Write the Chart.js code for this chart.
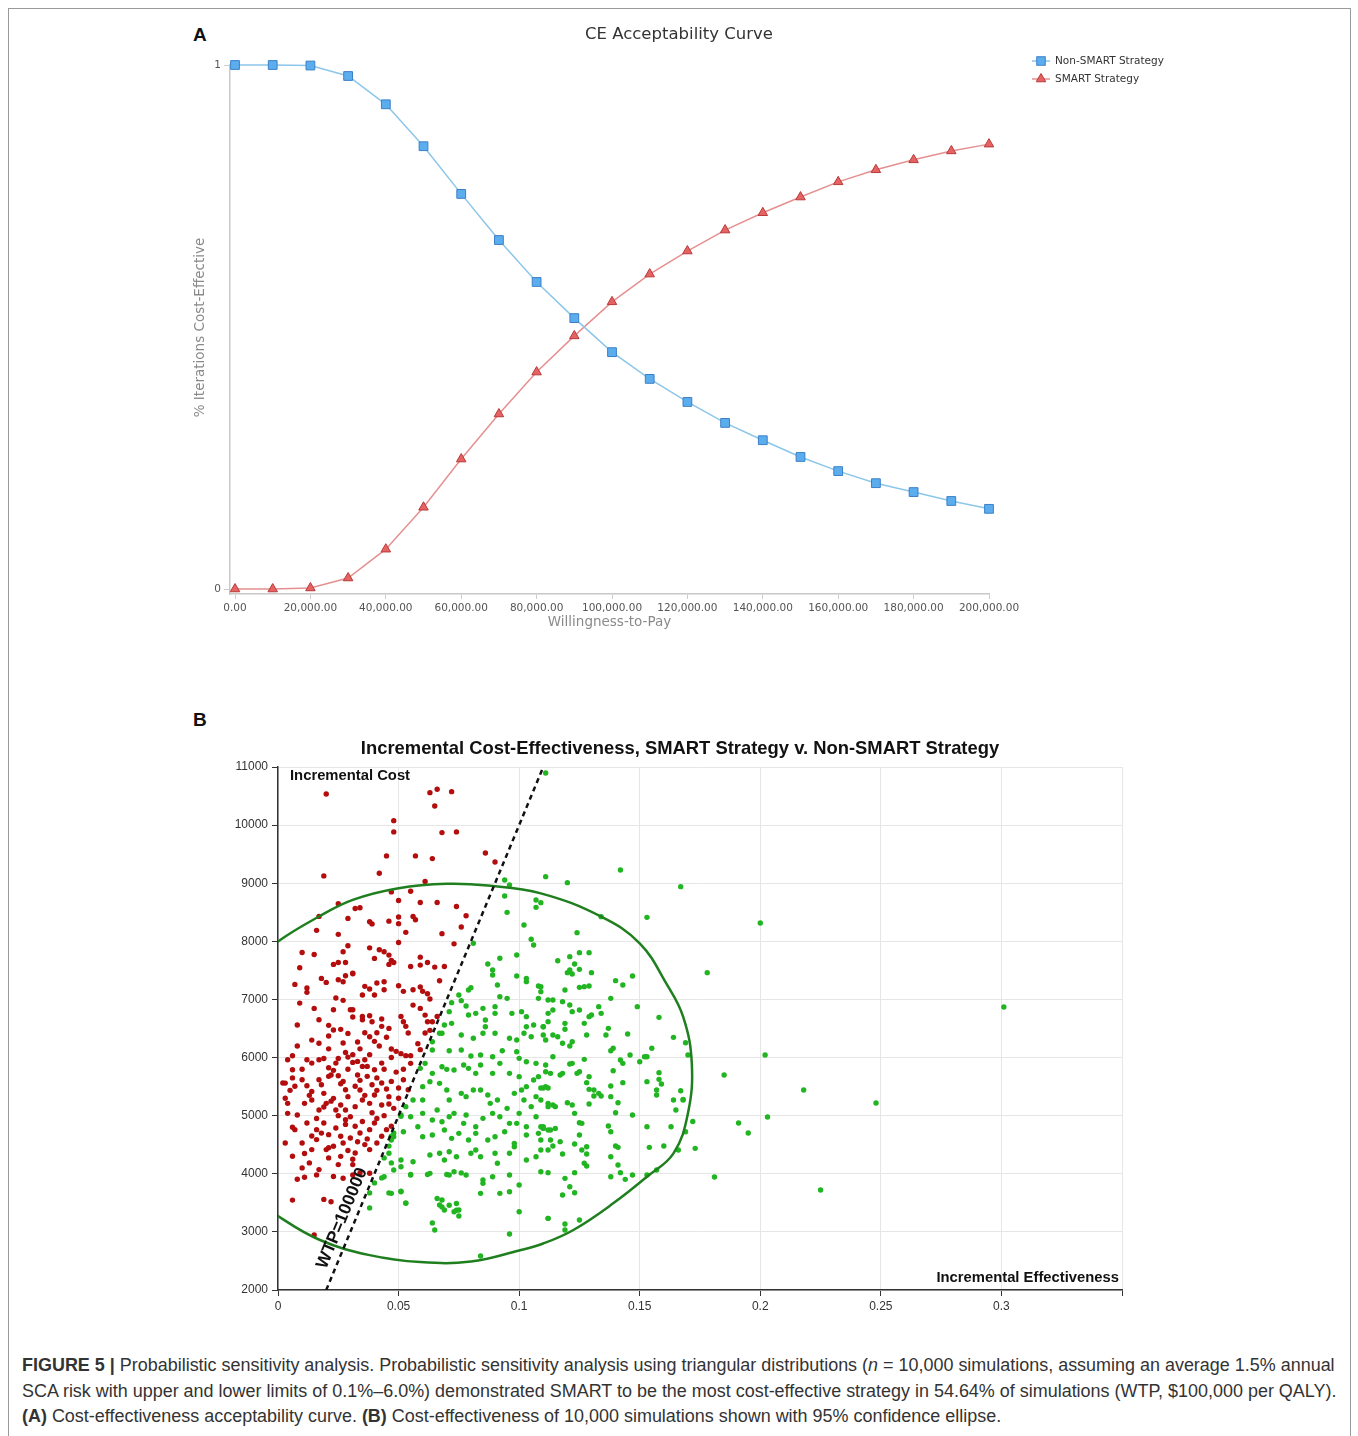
<!DOCTYPE html>
<html lang="en">
<head>
<meta charset="UTF-8">
<title>Figure 5 - Probabilistic sensitivity analysis</title>
<script src="https://cdn.jsdelivr.net/npm/chart.js"></script>
<style>
  body { margin: 0; background: #fff; width: 1358px; height: 1436px; position: relative; overflow: hidden; font-family: "Liberation Sans", Arial, sans-serif; }
  #frame { position: absolute; left: 8px; top: 8px; width: 1341px; height: 1450px; border: 1px solid #9a9a9a; }
  .panel { position: absolute; font-weight: bold; font-size: 19px; line-height: 19px; color: #111; }
  canvas { position: absolute; }
  #cea { left: 180px; top: 15px; }
  #ice { left: 180px; top: 730px; }
  #caption { position: absolute; left: 22px; top: 1353px; font-size: 17.5px; line-height: 25.5px; color: #333; }
  #caption .ln { white-space: nowrap; width: max-content; transform-origin: 0 0; }
</style>
</head>
<body>
<div id="frame"></div>
<div class="panel" style="left:193px; top:25px;">A</div>
<div class="panel" style="left:193px; top:710px;">B</div>
<canvas id="cea" width="1000" height="630" style="width:1000px;height:630px;"></canvas>
<canvas id="ice" width="1000" height="600" style="width:1000px;height:600px;"></canvas>
<div id="caption">
  <div class="ln"><b>FIGURE 5 |</b> Probabilistic sensitivity analysis. Probabilistic sensitivity analysis using triangular distributions (<i>n</i> = 10,000 simulations, assuming an average 1.5% annual</div>
  <div class="ln">SCA risk with upper and lower limits of 0.1%–6.0%) demonstrated SMART to be the most cost-effective strategy in 54.64% of simulations (WTP, $100,000 per QALY).</div>
  <div class="ln"><b>(A)</b> Cost-effectiveness acceptability curve. <b>(B)</b> Cost-effectiveness of 10,000 simulations shown with 95% confidence ellipse.</div>
</div>

<script>
// ---- panel A: CE acceptability curve ----
const wtp = [0, 10000, 20000, 30000, 40000, 50000, 60000, 70000, 80000, 90000, 100000,
             110000, 120000, 130000, 140000, 150000, 160000, 170000, 180000, 190000, 200000];
const nonSmart = [1, 1, 0.999, 0.979, 0.925, 0.845, 0.754, 0.666, 0.586, 0.517, 0.452,
                  0.401, 0.357, 0.317, 0.284, 0.252, 0.225, 0.202, 0.185, 0.168, 0.153];
const smart = [0, 0, 0.002, 0.021, 0.076, 0.156, 0.248, 0.334, 0.414, 0.483, 0.548,
               0.601, 0.645, 0.685, 0.718, 0.748, 0.777, 0.800, 0.819, 0.836, 0.849];
const wtpTicks = [0, 20000, 40000, 60000, 80000, 100000, 120000, 140000, 160000, 180000, 200000];
const wtpTickLabels = ['0.00', '20,000.00', '40,000.00', '60,000.00', '80,000.00', '100,000.00',
                       '120,000.00', '140,000.00', '160,000.00', '180,000.00', '200,000.00'];
const ceaTicks = [0, 1];

// ---- panel B: incremental cost-effectiveness scatter ----
const effTicks = [0, 0.05, 0.1, 0.15, 0.2, 0.25, 0.3, 0.35];
const effTickLabels = ['0', '0.05', '0.1', '0.15', '0.2', '0.25', '0.3', ''];
const costTicks = [2000, 3000, 4000, 5000, 6000, 7000, 8000, 9000, 10000, 11000];

// simulations where SMART is not cost-effective (left of WTP line)
const redPts = [
  [0.020,10536],[0.063,10559],[0.066,10616],[0.065,10330],[0.072,10576],
  [0.048,10077],[0.048,9883],[0.068,9871],[0.074,9883],
  [0.045,9470],[0.057,9470],[0.064,9424],[0.019,9126],[0.042,9172],[0.061,9030],
  [0.086,9521],[0.090,9366],
  [0.047,8851],[0.055,8863],[0.025,8646],[0.032,8566],[0.034,8578],[0.050,8702],[0.059,8668],[0.066,8668],[0.074,8600],
  [0.017,8429],[0.029,8395],[0.038,8338],[0.039,8300],[0.046,8347],[0.050,8304],[0.050,8418],[0.056,8429],[0.057,8372],[0.078,8440],[0.076,8246],
  [0.016,8189],[0.025,8120],[0.053,8155],[0.068,8132],[0.073,7957],[0.050,7980],
  [0.010,7808],[0.015,7774],[0.009,7545],
  [0.029,7923],[0.027,7820],[0.025,7637],[0.023,7603],[0.028,7637],[0.031,7453],[0.028,7408],
  [0.038,7888],[0.044,7820],[0.042,7854],[0.040,7706],[0.047,7671],[0.046,7603],[0.046,7763],[0.048,7637],
  [0.055,7568],[0.059,7728],[0.059,7591],[0.062,7637],[0.065,7557],[0.069,7568],
  [0.018,7362],[0.020,7293],[0.007,7259],[0.012,7196],[0.012,7122],
  [0.025,7339],[0.027,7305],[0.031,7442],[0.036,7225],[0.038,7179],[0.040,7076],[0.041,7282],[0.044,7305],[0.044,7168],
  [0.050,7236],[0.052,7139],[0.056,7168],[0.059,7214],[0.060,7139],[0.062,7099],[0.067,7322],[0.063,7007],
  [0.024,7024],[0.027,6984],[0.030,6823],[0.035,7076],
  [0.009,6937],[0.015,6846],[0.008,6560],[0.023,6823],[0.031,6823],[0.031,6697],[0.035,6708],[0.035,6651],[0.038,6720],[0.039,6617],[0.043,6663],[0.043,6537],[0.046,6502],
  [0.051,6708],[0.052,6617],[0.053,6537],[0.054,6422],[0.056,6903],[0.059,6846],[0.061,6731],[0.062,6617],[0.064,6617],[0.066,6708],[0.063,6468],[0.061,6422],
  [0.017,6245],[0.014,6300],[0.021,6371],[0.023,6474],[0.021,6554],[0.026,6485],[0.029,6416],[0.033,6268],[0.036,6428],[0.038,6359],[0.040,6279],[0.041,6428],
  [0.047,6147],[0.049,6107],[0.051,6067],[0.053,6033],[0.055,6033],[0.059,6136],[0.058,6239],
  [0.006,6032],[0.012,5963],[0.014,5905],[0.017,5963],[0.019,5985],[0.021,5825],[0.024,5905],[0.025,5985],[0.028,6088],[0.029,6008],[0.031,5917],[0.033,5934],[0.035,5848],[0.037,5848],[0.036,5963],[0.040,5791],[0.043,5905],
  [0.002,5562],[0.005,5436],[0.006,5791],[0.010,5619],[0.012,5516],[0.014,5418],[0.017,5619],[0.018,5533],[0.021,5677],[0.023,5780],[0.025,5688],[0.027,5590],[0.028,5447],[0.032,5505],[0.034,5608],[0.037,5677],[0.039,5533],[0.041,5436],[0.043,5562],[0.045,5459],[0.047,5590],[0.050,5476],[0.052,5619],[0.054,5447],
  [0.004,5040],[0.008,5011],[0.011,5212],[0.014,5269],[0.017,5097],[0.020,5212],[0.023,5298],[0.026,5183],[0.029,5327],[0.032,5155],[0.035,5269],[0.038,5212],[0.040,5355],[0.043,5183],[0.046,5327],[0.048,5126],[0.019,5384],[0.034,5441],[0.030,4982],[0.028,5097],
  [0.012,4874],[0.016,4759],[0.019,4874],[0.021,4673],[0.024,4788],[0.026,4645],[0.028,4931],[0.032,4817],[0.034,4702],[0.038,4759],[0.040,4874],[0.043,4645],[0.045,4759],[0.047,4817],[0.024,5097],
  [0.016,4588],[0.020,4416],[0.023,4473],[0.027,4530],[0.030,4616],[0.032,4358],[0.036,4502],[0.038,4416],[0.041,4530],[0.010,4101],[0.013,4187],[0.017,4072],[0.021,4273],[0.025,4158],[0.031,4158],[0.034,4015],[0.006,4301],[0.003,4530],
  [0.004,5212],[0.007,4759],[0.010,4530],[0.014,4416],[0.007,5505],[0.004,5963],[0.003,5560],
  [0.008,3906],[0.011,3940],[0.016,3981],[0.023,3952],[0.027,3923],[0.031,3981],[0.038,4009],[0.006,3547],[0.019,3559],[0.022,3519],[0.015,2946],
  [0.022,5700],[0.026,5550],[0.029,5800],[0.033,5700],[0.036,5350],[0.039,5050],[0.041,4950],[0.044,5000],[0.035,4900],[0.028,4850],
  [0.025,5000],[0.022,5250],[0.019,5150],[0.016,4950],[0.013,5350],[0.010,5800],[0.008,6200],[0.017,6650],[0.021,6150],[0.027,6250],
  [0.031,6050],[0.034,6150],[0.038,6050],[0.042,6200],[0.045,6350],[0.047,6000],[0.044,5800],[0.041,5650],[0.049,5750],[0.052,5800],
  [0.055,5900],[0.050,5300],[0.046,5200],[0.037,4600],[0.033,4550],[0.029,4400],[0.026,4300],[0.031,4250],[0.021,4450],[0.018,4700],
  [0.014,4650],[0.011,4350],[0.006,4800],[0.003,5300],[0.006,5650]
];

// simulations where SMART is cost-effective (right of WTP line)
const greenPts = [
  [0.038,3671],[0.040,3843],[0.043,3929],[0.046,3671],[0.051,3700],[0.053,3500],[0.038,3413],[0.046,4476],[0.044,4273],[0.047,4187],
  [0.055,3987],[0.062,3987],[0.064,3155],[0.066,3574],[0.068,3430],[0.071,3459],[0.074,3488],[0.074,3373],[0.070,3987],[0.076,4015],
  [0.048,4702],[0.047,4645],[0.051,4989],
  [0.094,9056],[0.096,8970],[0.094,8780],[0.095,8499],[0.111,10898],
  [0.107,8712],[0.109,8666],[0.107,8585],[0.102,8281],[0.105,8035],[0.106,7937],[0.081,7966],
  [0.087,7610],[0.089,7507],[0.089,7421],[0.092,7708],
  [0.099,7765],[0.099,7404],[0.103,7363],[0.103,7306],[0.108,7231],[0.109,7134],
  [0.080,7203],[0.079,7163],[0.091,7249],[0.092,7048],
  [0.075,7077],[0.072,6945],[0.076,6979],[0.071,6790],[0.069,6560],[0.072,6589],[0.068,6417],
  [0.078,6887],[0.079,6732],[0.082,6761],[0.085,6847],[0.086,6646],[0.086,6531],[0.090,6876],[0.090,6761],[0.095,7019],[0.097,6761],
  [0.101,6790],[0.103,6704],[0.103,6531],[0.106,6560],[0.110,6531],[0.110,6388],[0.108,7019],[0.112,6761],[0.112,6990],
  [0.064,6273],[0.067,6417],[0.076,6388],[0.081,6331],[0.085,6417],[0.090,6417],[0.096,6331],[0.099,6302],[0.102,6417],[0.105,6359],[0.111,6302],
  [0.064,6130],[0.071,6118],[0.076,6130],[0.080,6027],[0.084,6044],[0.089,6015],[0.093,6118],[0.099,6101],[0.100,5986],[0.103,5929],[0.107,5900],[0.111,5872],
  [0.059,5814],[0.061,5900],[0.064,5728],[0.068,5843],[0.070,5797],[0.073,5786],[0.077,5872],[0.079,5814],[0.082,5728],[0.084,5872],
  [0.089,5728],[0.092,5900],[0.096,5728],[0.100,5671],[0.103,5499],[0.106,5614],[0.108,5671],[0.111,5499],[0.113,5728],
  [0.053,5155],[0.056,5269],[0.060,5269],[0.060,5499],[0.063,5585],[0.067,5556],[0.070,5442],[0.071,5269],[0.076,5384],[0.078,5327],
  [0.081,5442],[0.084,5442],[0.087,5355],[0.088,5212],[0.091,5269],[0.095,5126],[0.098,5384],[0.101,5442],[0.102,5269],[0.105,5155],[0.107,5327],[0.112,5155],
  [0.051,5011],[0.055,4982],[0.060,5040],[0.064,4925],[0.066,5097],[0.068,4896],[0.071,4982],[0.073,5040],[0.077,4868],[0.078,5011],
  [0.082,4810],[0.085,4954],[0.089,5040],[0.092,4982],[0.096,4868],[0.099,4868],[0.100,5040],[0.103,4810],[0.107,4982],[0.110,4810],[0.113,4753],
  [0.047,4581],[0.048,4638],[0.052,4724],[0.058,4810],[0.060,4638],[0.064,4667],[0.069,4753],[0.072,4610],[0.075,4696],[0.079,4581],
  [0.082,4696],[0.087,4581],[0.090,4638],[0.094,4724],[0.098,4524],[0.103,4667],[0.108,4696],
  [0.046,4352],[0.051,4237],[0.056,4208],[0.063,4323],[0.067,4352],[0.069,4237],[0.071,4380],[0.074,4294],[0.080,4352],[0.082,4409],
  [0.084,4294],[0.090,4352],[0.091,4180],[0.096,4352],[0.098,4466],[0.103,4237],[0.107,4294],[0.112,4409],
  [0.044,3950],[0.048,4065],[0.051,4122],[0.055,3979],[0.063,4007],[0.071,3979],[0.073,4036],[0.078,3979],[0.085,3893],[0.089,3950],
  [0.096,3979],[0.100,3807],[0.109,4036],
  [0.047,3663],[0.051,3692],[0.053,3491],[0.068,3548],[0.067,3462],[0.069,3376],[0.073,3347],[0.075,3376],[0.075,3273],
  [0.084,3663],[0.085,3835],[0.092,3663],[0.096,3692],[0.100,3347],[0.112,3233],
  [0.065,3032],[0.096,2963],[0.084,2584],
  [0.111,9113],[0.120,9010],[0.142,9228],[0.167,8941],[0.134,8425],[0.153,8413],[0.124,8149],[0.178,7461],
  [0.116,7667],[0.121,7736],[0.125,7805],[0.129,7805],[0.120,7461],[0.121,7507],[0.122,7438],[0.125,7518],[0.123,7610],[0.130,7461],
  [0.125,7208],[0.127,7220],[0.129,7231],[0.140,7323],[0.143,7249],[0.147,7404],
  [0.119,7163],[0.109,7220],[0.118,6962],[0.121,6904],[0.114,6990],[0.114,6818],[0.122,6790],[0.125,6818],[0.133,6876],[0.134,6761],
  [0.138,7019],[0.149,6876],[0.158,6692],[0.130,6732],[0.129,6704],[0.127,6589],[0.119,6589],[0.112,6618],[0.110,6531],[0.114,6388],
  [0.116,6359],[0.119,6486],[0.128,6388],[0.137,6503],[0.136,6388],[0.145,6405],[0.164,6348],[0.169,6256],[0.170,6044],[0.155,6159],
  [0.139,6159],[0.138,6118],[0.122,6273],[0.121,6199],[0.118,6245],
  [0.114,6015],[0.111,5757],[0.118,5728],[0.117,5700],[0.121,5889],[0.122,5900],[0.124,5728],[0.125,5757],[0.127,5969],[0.128,5568],
  [0.129,5671],[0.129,5453],[0.131,5442],[0.133,5384],[0.131,5338],[0.134,5338],[0.138,5510],[0.139,5774],[0.142,5958],[0.143,5900],
  [0.146,6044],[0.150,5929],[0.152,6015],[0.153,6015],[0.143,5568],[0.138,5327],[0.129,5201],[0.141,5223],[0.140,5051],[0.147,5011],
  [0.153,5585],[0.158,5740],[0.158,5625],[0.159,5544],[0.157,5442],[0.157,5355],[0.164,5269],[0.167,5430],[0.168,5281],[0.168,5269],[0.165,5097],
  [0.109,5476],[0.110,5476],[0.112,5476],[0.109,5269],[0.112,5212],[0.114,5183],[0.115,5155],[0.120,5223],[0.122,5183],[0.123,5040],
  [0.125,4879],[0.126,4868],[0.109,4810],[0.110,4781],[0.112,4753],[0.115,4781],[0.109,4581],[0.113,4581],[0.117,4553],[0.123,4512],
  [0.125,4667],[0.128,4466],[0.126,4409],[0.128,4340],[0.127,4180],[0.128,4134],[0.114,4478],[0.118,4340],[0.109,4409],[0.112,4019],
  [0.123,4019],[0.137,4822],[0.138,4724],[0.141,4455],[0.140,4478],[0.138,4294],[0.141,4151],[0.142,4019],[0.144,3904],[0.147,3979],
  [0.138,3950],[0.153,4810],[0.154,4455],[0.153,3979],[0.157,4065],[0.160,4478],[0.163,4810],[0.166,4409],[0.169,4724],[0.173,4438],
  [0.119,3921],[0.121,3778],[0.123,3674],[0.118,3634],[0.112,3233],[0.125,3204],[0.119,3135],[0.119,3032],
  [0.172,4900],[0.200,8316],[0.202,6044],[0.185,5700],[0.218,5442],[0.191,4874],[0.195,4702],[0.203,4977],[0.181,3945],[0.225,3721],
  [0.248,5218],[0.301,6870]
];

// 95% confidence ellipse
const ellipsePts = [
  [-0.033,5600],[-0.020,7157],[-0.010,7630],[0,7997],[0.017,8427],[0.031,8714],[0.050,8914],[0.070,8990],[0.087,8960],
  [0.109,8826],[0.134,8425],[0.150,7966],[0.161,7277],[0.168,6704],[0.1716,5900],[0.170,5040],[0.164,4352],[0.153,3950],
  [0.139,3491],[0.1225,3033],[0.110,2800],[0.100,2680],[0.080,2490],[0.059,2480],[0.038,2600],[0.0174,2860],
  [0,3273],[-0.010,3590],[-0.020,4043],[-0.033,5600]
];
const wtpLine = [[0.02, 2000], [0.11, 11000]];
const wtpLabelAt = [0.0315, 3150];

const toXY = arr => arr.map(p => ({ x: p[0], y: p[1] }));

// ---------- chart A ----------
const ceaFont = '"DejaVu Sans", Verdana, sans-serif';

function drawSquare(ctx, x, y, s, fill, stroke) {
  ctx.fillStyle = fill; ctx.strokeStyle = stroke; ctx.lineWidth = 1;
  ctx.fillRect(x - s / 2, y - s / 2, s, s);
  ctx.strokeRect(x - s / 2, y - s / 2, s, s);
}
function drawTri(ctx, x, y, r, fill, stroke) {
  ctx.beginPath();
  for (let k = 0; k < 3; k++) {
    const a = k * 2 * Math.PI / 3;
    const px = x + Math.sin(a) * r, py = y - Math.cos(a) * r;
    k ? ctx.lineTo(px, py) : ctx.moveTo(px, py);
  }
  ctx.closePath();
  ctx.fillStyle = fill; ctx.strokeStyle = stroke; ctx.lineWidth = 1;
  ctx.fill(); ctx.stroke();
}

const ceaText = {
  id: 'ceaText',
  afterDraw(chart) {
    const ctx = chart.ctx, a = chart.chartArea;
    ctx.save();
    ctx.textBaseline = 'middle';
    ctx.fillStyle = '#333';
    ctx.font = '16.5px ' + ceaFont;
    ctx.textAlign = 'center';
    ctx.fillText('CE Acceptability Curve', 499, 20);

    ctx.fillStyle = '#8a8a8a';
    ctx.font = '13.5px ' + ceaFont;
    ctx.fillText('Willingness-to-Pay', (a.left + a.right) / 2, 607);
    ctx.save();
    ctx.translate(20, (a.top + a.bottom) / 2 - 2);
    ctx.rotate(-Math.PI / 2);
    ctx.fillText('% Iterations Cost-Effective', 0, 0);
    ctx.restore();

    // legend
    ctx.textAlign = 'left';
    ctx.font = '10.5px ' + ceaFont;
    ctx.lineWidth = 1.5;
    ctx.strokeStyle = '#8cc6ea';
    ctx.beginPath(); ctx.moveTo(852, 46); ctx.lineTo(870, 46); ctx.stroke();
    drawSquare(ctx, 861, 46, 8.5, '#5cadee', '#3b80c8');
    ctx.strokeStyle = '#e59090'; ctx.lineWidth = 1.5;
    ctx.beginPath(); ctx.moveTo(852, 64); ctx.lineTo(870, 64); ctx.stroke();
    drawTri(ctx, 861, 64, 5.5, '#e56363', '#b83a3a');
    ctx.fillStyle = '#333';
    ctx.fillText('Non-SMART Strategy', 875, 46);
    ctx.fillText('SMART Strategy', 875, 64);
    ctx.restore();
  }
};

new Chart(document.getElementById('cea'), {
  type: 'line',
  data: {
    datasets: [
      {
        label: 'Non-SMART Strategy',
        data: wtp.map((x, i) => ({ x, y: nonSmart[i] })),
        borderColor: '#8cc6ea', borderWidth: 1.5, tension: 0, clip: false,
        pointStyle: 'rect', pointRadius: 6.2, pointBorderWidth: 1,
        pointBackgroundColor: '#5cadee', pointBorderColor: '#3b80c8'
      },
      {
        label: 'SMART Strategy',
        data: wtp.map((x, i) => ({ x, y: smart[i] })),
        borderColor: '#e59090', borderWidth: 1.5, tension: 0, clip: false,
        pointStyle: 'triangle', pointRadius: 5.5, pointBorderWidth: 1,
        pointBackgroundColor: '#e56363', pointBorderColor: '#b83a3a'
      }
    ]
  },
  options: {
    responsive: false, animation: false, events: [],
    layout: { padding: { top: 50, right: 191, left: 0, bottom: 0 } },
    plugins: { legend: { display: false }, tooltip: { enabled: false } },
    scales: {
      x: {
        type: 'linear', min: -1330, max: 200000,
        afterBuildTicks: s => { s.ticks = wtpTicks.map(v => ({ value: v })); },
        afterFit: s => { s.height = 51; },
        ticks: { callback: (v, i) => wtpTickLabels[i], color: '#555', padding: 3, maxRotation: 0, autoSkip: false,
                 font: { family: ceaFont, size: 10.5 } },
        grid: { drawOnChartArea: false, tickLength: 5, color: '#cccccc' },
        border: { color: '#c8c8c8', width: 1.5 }
      },
      y: {
        min: -0.0095, max: 1,
        afterBuildTicks: s => { s.ticks = ceaTicks.map(v => ({ value: v })); },
        afterFit: s => { s.width = 50; },
        ticks: { callback: v => String(v), color: '#555', padding: 3, font: { family: ceaFont, size: 10.5 } },
        grid: { drawOnChartArea: false, tickLength: 6, color: '#cccccc' },
        border: { color: '#c8c8c8', width: 1.5 }
      }
    }
  },
  plugins: [ceaText]
});

// ---------- chart B ----------
const iceFont = '"Liberation Sans", Arial, sans-serif';

const iceText = {
  id: 'iceText',
  afterDatasetsDraw(chart) {
    const ctx = chart.ctx, xs = chart.scales.x, ys = chart.scales.y;
    const x1 = xs.getPixelForValue(wtpLine[0][0]), y1 = ys.getPixelForValue(wtpLine[0][1]);
    const x2 = xs.getPixelForValue(wtpLine[1][0]), y2 = ys.getPixelForValue(wtpLine[1][1]);
    const ang = Math.atan2(y2 - y1, x2 - x1);
    ctx.save();
    ctx.translate(xs.getPixelForValue(wtpLabelAt[0]), ys.getPixelForValue(wtpLabelAt[1]));
    ctx.rotate(ang);
    ctx.font = 'bold 17.5px ' + iceFont;
    ctx.fillStyle = '#111';
    ctx.textAlign = 'center';
    ctx.textBaseline = 'bottom';
    ctx.fillText('WTP=100000', 0, -4);
    ctx.restore();
  },
  afterDraw(chart) {
    const ctx = chart.ctx, a = chart.chartArea;
    ctx.save();
    ctx.fillStyle = '#111';
    ctx.textBaseline = 'middle';
    ctx.textAlign = 'center';
    ctx.font = 'bold 18.4px ' + iceFont;
    ctx.fillText('Incremental Cost-Effectiveness, SMART Strategy v. Non-SMART Strategy', 500, 19);
    ctx.font = 'bold 14.8px ' + iceFont;
    ctx.textAlign = 'left';
    ctx.fillText('Incremental Cost', a.left + 12, a.top + 9);
    ctx.textAlign = 'right';
    ctx.fillText('Incremental Effectiveness', a.right - 3, a.bottom - 12);
    ctx.restore();
  }
};

new Chart(document.getElementById('ice'), {
  type: 'scatter',
  data: {
    datasets: [
      { label: 'WTP', data: toXY(wtpLine), showLine: true, order: 0, borderColor: '#111', borderWidth: 2.5,
        borderDash: [5, 4], pointRadius: 0, fill: false },
      { label: '95% ellipse', data: toXY(ellipsePts), showLine: true, order: 1, borderColor: '#1f7f1f', borderWidth: 2.5,
        tension: 0.4, pointRadius: 0, fill: false },
      { label: 'Cost-effective', data: toXY(greenPts), order: 2, pointRadius: 2.7, borderWidth: 0,
        backgroundColor: '#22b522', pointBackgroundColor: '#22b522' },
      { label: 'Not cost-effective', data: toXY(redPts), order: 3, pointRadius: 2.7, borderWidth: 0,
        backgroundColor: '#b30d0d', pointBackgroundColor: '#b30d0d' }
    ]
  },
  options: {
    responsive: false, animation: false, events: [],
    layout: { padding: { top: 37, right: 58, left: 0, bottom: 0 } },
    plugins: { legend: { display: false }, tooltip: { enabled: false } },
    scales: {
      x: {
        type: 'linear', min: 0, max: 0.35,
        afterBuildTicks: s => { s.ticks = effTicks.map(v => ({ value: v })); },
        afterFit: s => { s.height = 40; },
        ticks: { callback: (v, i) => effTickLabels[i], color: '#333', padding: 3, maxRotation: 0, autoSkip: false,
                 font: { family: iceFont, size: 12 } },
        grid: { color: '#e6e6e6', tickColor: '#333', tickLength: 6 },
        border: { color: '#333', width: 1.5 }
      },
      y: {
        min: 2000, max: 11000,
        afterBuildTicks: s => { s.ticks = costTicks.map(v => ({ value: v })); },
        afterFit: s => { s.width = 98; },
        ticks: { callback: v => String(v), color: '#333', padding: 4, font: { family: iceFont, size: 12 } },
        grid: { color: '#e6e6e6', tickColor: '#333', tickLength: 6 },
        border: { color: '#333', width: 1.5 }
      }
    }
  },
  plugins: [iceText]
});

// fit caption lines to the figure width
const capLines = document.querySelectorAll('#caption .ln');
const k = 1313 / capLines[0].offsetWidth;
capLines.forEach(l => { l.style.transform = 'scaleX(' + k + ')'; });
</script>
</body>
</html>
